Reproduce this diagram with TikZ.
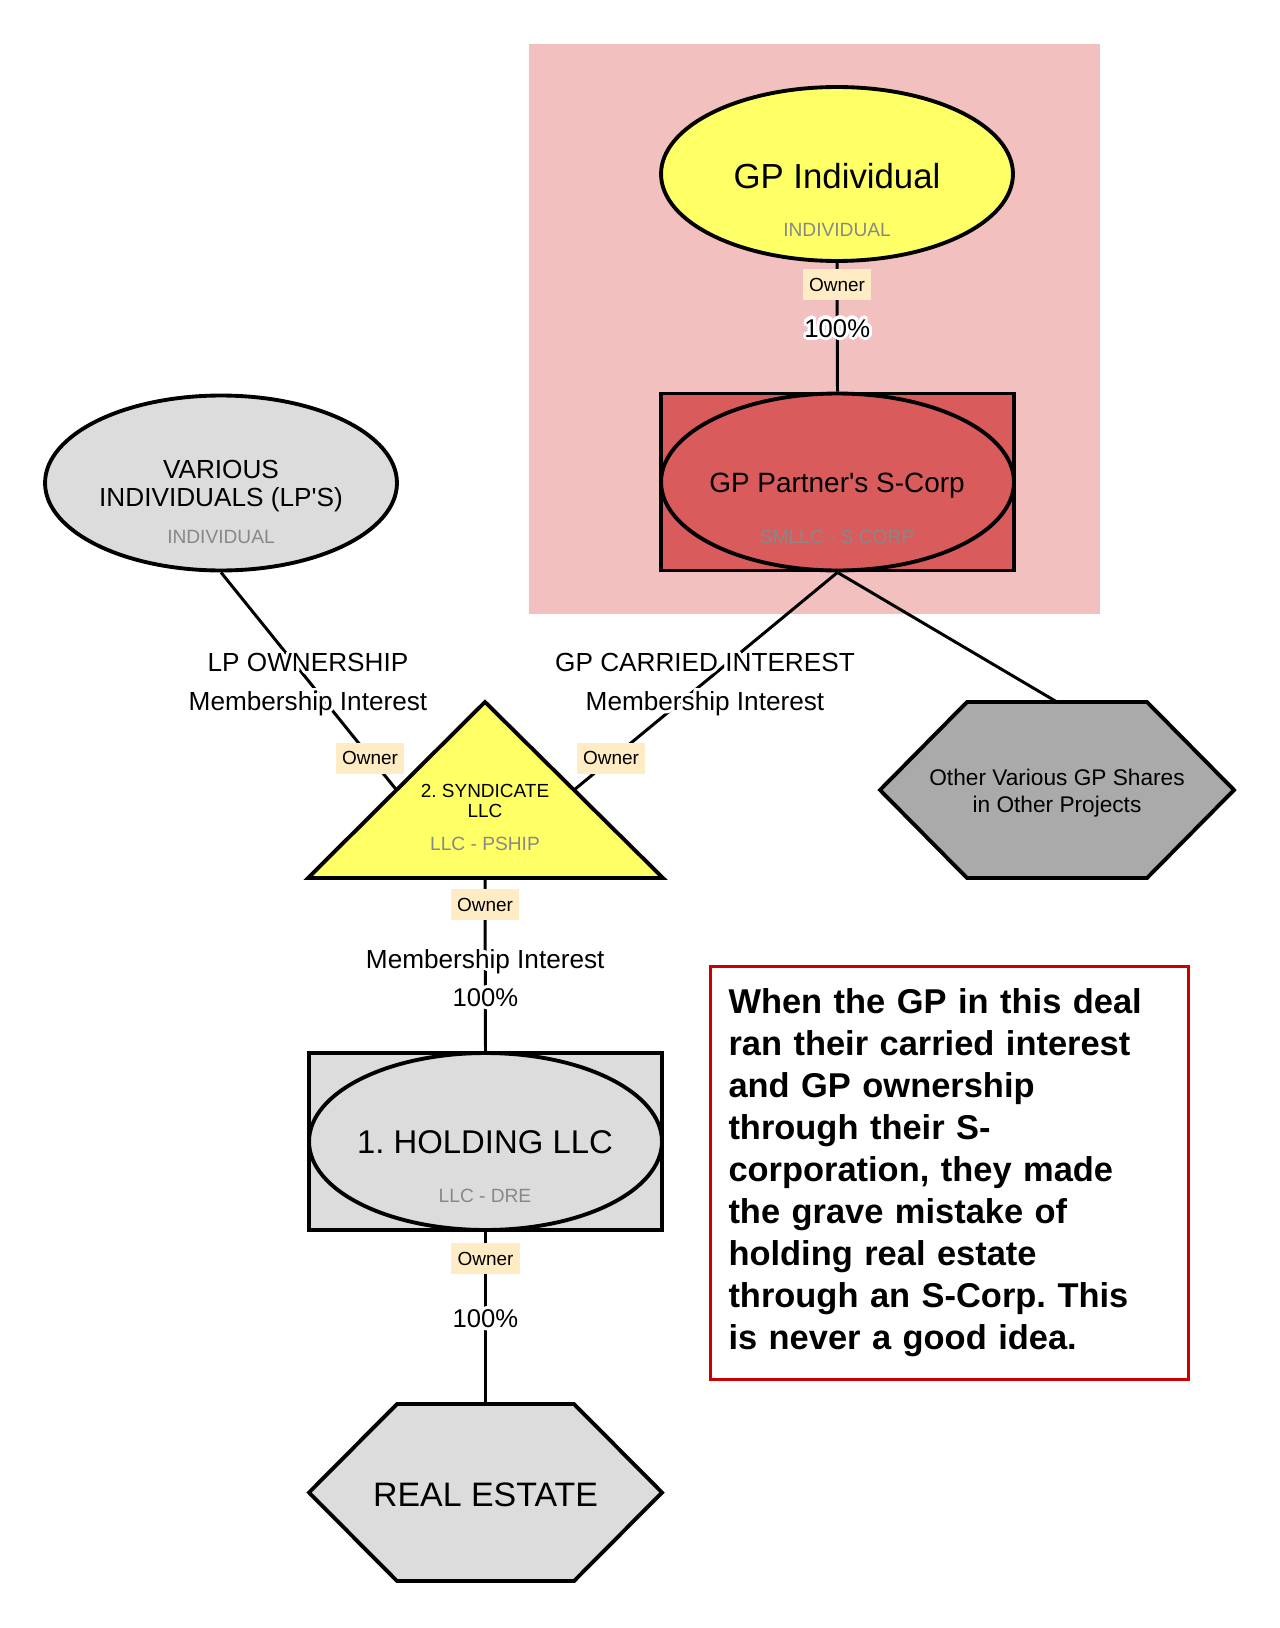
\documentclass[tikz,border=0pt]{standalone}
\usepackage{fontspec}
\setmainfont{Liberation Sans}
\usepackage{contour}
\contourlength{1.8pt}
\usetikzlibrary{shapes.geometric}
\definecolor{gpzone}{RGB}{243,192,192}
\definecolor{gpyellow}{RGB}{255,255,102}
\definecolor{scorpred}{RGB}{217,91,91}
\definecolor{entitygrey}{RGB}{220,220,220}
\definecolor{othergrey}{RGB}{170,170,170}
\definecolor{ownertag}{RGB}{255,236,196}
\definecolor{typegrey}{RGB}{136,136,136}
\definecolor{noteborder}{RGB}{204,0,0}
\def\fsize#1#2{\fontsize{#1}{#2}\selectfont}
\def\halo#1{\contour{white}{#1}}
\frenchspacing

\begin{document}
\begin{tikzpicture}[x=0.02cm, y=-0.02cm,
    outline/.style={draw=black, line width=2.2pt},
    link/.style={line width=1.7pt},
    entity/.style={outline, ellipse, inner sep=0pt, minimum width=7.04cm, minimum height=3.5cm},
    boxed/.style={outline, rectangle, minimum width=7.06cm, minimum height=3.54cm},
    owner/.style={fill=ownertag, inner xsep=3.5pt, inner ysep=0pt, minimum height=0.62cm, font=\fsize{10.8}{13}},
    typetext/.style={text=typegrey, font=\fsize{10.9}{13}},
    edgetext/.style={font=\fsize{14.9}{18}},
    pcttext/.style={font=\fsize{14.6}{17}},
    notebox/.style={draw=noteborder, line width=1.7pt, fill=white, align=left, inner xsep=0.36cm,
      text width=8.84cm, minimum height=8.26cm, font=\bfseries\fsize{19.6}{23.9}}]
%%%%% START %%%%%
\fill[white] (0,0) rectangle (1280,1628);
\useasboundingbox (0,0) rectangle (1280,1628);
\fill[gpzone] (529,44) rectangle (1100,614);

% GP individual
\node[entity, fill=gpyellow, minimum height=3.48cm] (gpind) at (837,174) {};
\node[font=\fsize{19.8}{23}] (gpindname) at (837,176) {GP Individual};
\node[typetext] (gpindtype) at (837,230) {INDIVIDUAL};

% GP partner's S-corp
\node[boxed, fill=scorpred] (scorp) at (837.5,482) {};
\draw[outline] (scorp.center) ellipse [x radius=3.53cm, y radius=1.77cm];
\node[font=\fsize{15.9}{19}] (scorpname) at (837,486) {GP Partner\textquotesingle s S-Corp};
\node[typetext] (scorptype) at (837,537) {SMLLC - S CORP};

% various individuals
\node[entity, fill=entitygrey] (vi) at (221,483) {};
\node[align=center, font=\fsize{14.9}{16.4}] (viname) at (221,486) {VARIOUS\\INDIVIDUALS (LP\textquotesingle S)};
\node[typetext] (vitype) at (221,537) {INDIVIDUAL};

% syndicate
\draw[outline, fill=gpyellow] (485,702) -- (663,878) -- (308,878) -- cycle;
\coordinate (synleft) at (396.5,790);
\coordinate (synright) at (574,790);
\coordinate (synbase) at (485,878);
\node[align=center, font=\fsize{10.8}{11.9}] (synname) at (485,801) {2. SYNDICATE\\LLC};
\node[typetext] (syntype) at (485,844) {LLC - PSHIP};

% other GP shares
\draw[outline, fill=othergrey] (880,790) -- (967,702) -- (1147,702) -- (1234,790) -- (1147,878) -- (967,878) -- cycle;
\coordinate (othertop) at (1057,702);
\node[align=center, font=\fsize{12.9}{15.3}] (othername) at (1057,793) {Other Various GP Shares\\in Other Projects};

% holding
\node[boxed, fill=entitygrey] (holding) at (485.5,1141.5) {};
\draw[outline] (holding.center) ellipse [x radius=3.53cm, y radius=1.77cm];
\node[font=\fsize{18.7}{22}] (holdingname) at (485,1142) {1. HOLDING LLC};
\node[typetext] (holdingtype) at (485,1196) {LLC - DRE};

% real estate
\draw[outline, fill=entitygrey] (309,1492.5) -- (397,1404) -- (574,1404) -- (662,1492.5) -- (574,1581) -- (397,1581) -- cycle;
\coordinate (retop) at (485.5,1404);
\node[font=\fsize{19.3}{22}] (rename) at (485.5,1495) {REAL ESTATE};

% links
\draw[link] (gpind.south) -- node[owner, pos=0.17] (gpowner) {Owner}
  node[pcttext, pos=0.52] (gppct) {\halo{100\%}} (scorp.north);
\draw[link] (vi.south) -- (synleft);
\draw[link] (scorp.south) -- (synright);
\draw[link] (scorp.south) -- (othertop);
\draw[link] (synbase) -- node[owner, pos=0.155] (synowner) {Owner}
  node[edgetext, pos=0.49] (synmem) {\halo{Membership Interest}}
  node[pcttext, pos=0.70] (synpct) {\halo{100\%}} (holding.north);
\draw[link] (holding.south) -- node[owner, pos=0.155] (holdowner) {Owner}
  node[pcttext, pos=0.515] (holdpct) {\halo{100\%}} (retop);

% link labels
\node[edgetext] (lpown) at (308,664) {\halo{LP OWNERSHIP}};
\node[edgetext] (lpmem) at (308,705) {\halo{Membership Interest}};
\node[owner] (lpowner) at (370,758) {Owner};
\node[edgetext] (gpcarry) at (705,664) {\halo{GP CARRIED INTEREST}};
\node[edgetext] (gpmem) at (705,705) {\halo{Membership Interest}};
\node[owner] (gpcowner) at (611,758) {Owner};

% note
\node[notebox, anchor=north west] (note) at (709,965) {When the GP in this deal\\
ran their carried interest\\
and GP ownership\\
through their S-\\
corporation, they made\\
the grave mistake of\\
holding real estate\\
through an S-Corp. This\\
is never a good idea.};
%%%%% END %%%%%
\end{tikzpicture}
\end{document}
